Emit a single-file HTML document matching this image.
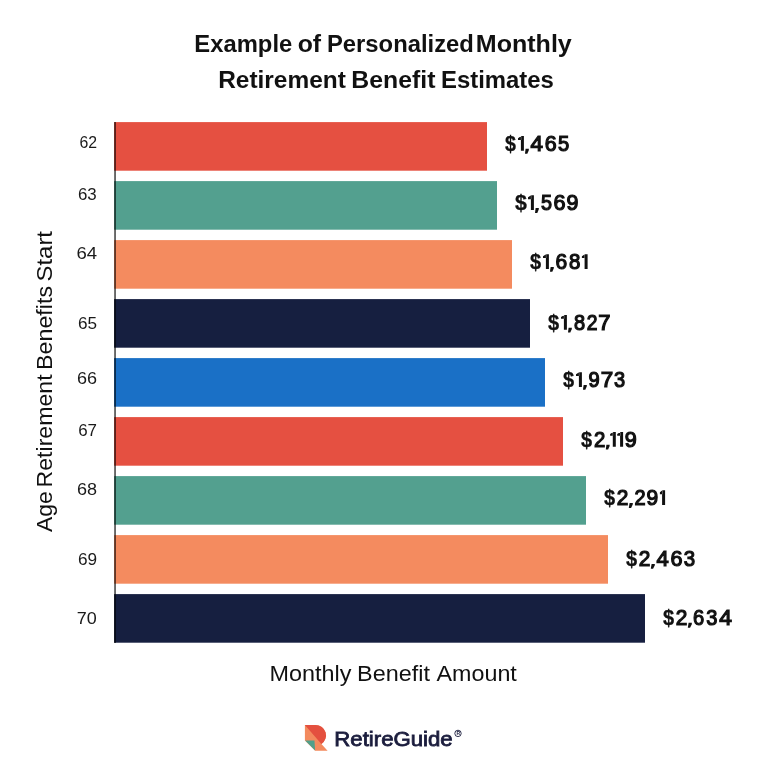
<!DOCTYPE html>
<html><head><meta charset="utf-8"><style>
html,body{margin:0;padding:0;background:#fff;}
body{width:768px;height:775px;overflow:hidden;}
svg{display:block;will-change:transform;}
text{font-family:"Liberation Sans",sans-serif;}
</style></head><body>
<svg width="768" height="775" viewBox="0 0 768 775">
<rect x="114.1" y="122.1" width="372.9" height="48.6" fill="#E55041"/>
<rect x="114.1" y="181.1" width="382.9" height="48.6" fill="#53A08F"/>
<rect x="114.1" y="240.1" width="397.9" height="48.6" fill="#F48B5F"/>
<rect x="114.1" y="299.1" width="415.9" height="48.6" fill="#161F40"/>
<rect x="114.1" y="358.1" width="430.9" height="48.6" fill="#1A70C6"/>
<rect x="114.1" y="417.1" width="448.9" height="48.6" fill="#E55041"/>
<rect x="114.1" y="476.1" width="471.9" height="48.6" fill="#53A08F"/>
<rect x="114.1" y="535.1" width="493.9" height="48.6" fill="#F48B5F"/>
<rect x="114.1" y="594.1" width="530.9" height="48.6" fill="#161F40"/>
<text style="font-size:24.4px;font-weight:bold;fill:#111" x="194.36" y="51.9" textLength="97.87" lengthAdjust="spacingAndGlyphs">Example</text>
<text style="font-size:24.4px;font-weight:bold;fill:#111" x="297.70" y="51.9" textLength="23.41" lengthAdjust="spacingAndGlyphs">of</text>
<text style="font-size:24.4px;font-weight:bold;fill:#111" x="326.98" y="51.9" textLength="146.86" lengthAdjust="spacingAndGlyphs">Personalized</text>
<text style="font-size:24.4px;font-weight:bold;fill:#111" x="475.77" y="51.9" textLength="96.05" lengthAdjust="spacingAndGlyphs">Monthly</text>
<text style="font-size:24.4px;font-weight:bold;fill:#111" x="218.19" y="87.8" textLength="127.63" lengthAdjust="spacingAndGlyphs">Retirement</text>
<text style="font-size:24.4px;font-weight:bold;fill:#111" x="351.35" y="87.8" textLength="84.06" lengthAdjust="spacingAndGlyphs">Benefit</text>
<text style="font-size:24.4px;font-weight:bold;fill:#111" x="440.94" y="87.8" textLength="112.92" lengthAdjust="spacingAndGlyphs">Estimates</text>
<text style="font-size:16.2px;font-weight:normal;fill:#1a1a1a" x="79.40" y="148.0" textLength="17.62" lengthAdjust="spacingAndGlyphs">62</text>
<text style="font-size:16.2px;font-weight:normal;fill:#1a1a1a" x="77.97" y="200.3" textLength="18.79" lengthAdjust="spacingAndGlyphs">63</text>
<text style="font-size:16.2px;font-weight:normal;fill:#1a1a1a" x="76.50" y="259.2" textLength="20.63" lengthAdjust="spacingAndGlyphs">64</text>
<text style="font-size:16.2px;font-weight:normal;fill:#1a1a1a" x="77.97" y="328.9" textLength="19.08" lengthAdjust="spacingAndGlyphs">65</text>
<text style="font-size:16.2px;font-weight:normal;fill:#1a1a1a" x="76.91" y="384.0" textLength="20.06" lengthAdjust="spacingAndGlyphs">66</text>
<text style="font-size:16.2px;font-weight:normal;fill:#1a1a1a" x="78.19" y="436.1" textLength="18.85" lengthAdjust="spacingAndGlyphs">67</text>
<text style="font-size:16.2px;font-weight:normal;fill:#1a1a1a" x="76.91" y="495.1" textLength="20.06" lengthAdjust="spacingAndGlyphs">68</text>
<text style="font-size:16.2px;font-weight:normal;fill:#1a1a1a" x="77.92" y="565.3" textLength="19.14" lengthAdjust="spacingAndGlyphs">69</text>
<text style="font-size:16.2px;font-weight:normal;fill:#1a1a1a" x="76.75" y="624.2" textLength="20.00" lengthAdjust="spacingAndGlyphs">70</text>
<text style="font-size:22.4px;font-weight:normal;fill:#111" x="269.53" y="680.6" textLength="81.88" lengthAdjust="spacingAndGlyphs">Monthly</text>
<text style="font-size:22.4px;font-weight:normal;fill:#111" x="357.14" y="680.6" textLength="72.86" lengthAdjust="spacingAndGlyphs">Benefit</text>
<text style="font-size:22.4px;font-weight:normal;fill:#111" x="436.58" y="680.6" textLength="80.23" lengthAdjust="spacingAndGlyphs">Amount</text>
<text style="font-size:22.4px;font-weight:normal;fill:#111" transform="translate(51.8,532.08) rotate(-90)" textLength="40.75" lengthAdjust="spacingAndGlyphs">Age</text>
<text style="font-size:22.4px;font-weight:normal;fill:#111" transform="translate(51.8,487.44) rotate(-90)" textLength="113.06" lengthAdjust="spacingAndGlyphs">Retirement</text>
<text style="font-size:22.4px;font-weight:normal;fill:#111" transform="translate(51.8,369.88) rotate(-90)" textLength="83.92" lengthAdjust="spacingAndGlyphs">Benefits</text>
<text style="font-size:22.4px;font-weight:normal;fill:#111" transform="translate(51.8,281.47) rotate(-90)" textLength="50.47" lengthAdjust="spacingAndGlyphs">Start</text>
<text style="font-size:20.0px;font-weight:normal;fill:#1B1D3D;stroke:#1B1D3D;stroke-width:0.8px" x="334.36" y="745.7" textLength="118.27" lengthAdjust="spacingAndGlyphs">RetireGuide</text>
<text x="505.09" y="150.8" textLength="10.94" lengthAdjust="spacingAndGlyphs" style="font-size:21.3px;font-weight:bold;fill:#111;stroke:#111;stroke-width:0.3px">$</text>
<path d="M520.90,136.05H523.90V150.80H520.90Z M521.20,136.05 L518.00,138.15 L518.00,139.95 L521.20,139.95Z" fill="#111"/>
<path d="M525.60,148.80 L528.90,148.80 L528.70,150.40 L527.30,153.70 L525.00,153.70 Z" fill="#111"/>
<text x="530.59" y="150.8" textLength="12.47" lengthAdjust="spacingAndGlyphs" style="font-size:21.3px;font-weight:normal;fill:#111;stroke:#111;stroke-width:1.2px">4</text>
<text x="544.81" y="150.8" textLength="11.93" lengthAdjust="spacingAndGlyphs" style="font-size:21.3px;font-weight:normal;fill:#111;stroke:#111;stroke-width:1.2px">6</text>
<text x="557.99" y="150.8" textLength="11.26" lengthAdjust="spacingAndGlyphs" style="font-size:21.3px;font-weight:normal;fill:#111;stroke:#111;stroke-width:1.2px">5</text>
<text x="515.07" y="210.0" textLength="11.88" lengthAdjust="spacingAndGlyphs" style="font-size:21.3px;font-weight:bold;fill:#111;stroke:#111;stroke-width:0.3px">$</text>
<path d="M530.90,195.25H533.90V210.00H530.90Z M531.20,195.25 L528.00,197.35 L528.00,199.15 L531.20,199.15Z" fill="#111"/>
<path d="M535.60,208.00 L538.90,208.00 L538.70,209.60 L537.30,212.90 L535.00,212.90 Z" fill="#111"/>
<text x="541.01" y="210.0" textLength="11.03" lengthAdjust="spacingAndGlyphs" style="font-size:21.3px;font-weight:normal;fill:#111;stroke:#111;stroke-width:1.2px">5</text>
<text x="553.40" y="210.0" textLength="12.05" lengthAdjust="spacingAndGlyphs" style="font-size:21.3px;font-weight:normal;fill:#111;stroke:#111;stroke-width:1.2px">6</text>
<text x="566.50" y="210.0" textLength="11.92" lengthAdjust="spacingAndGlyphs" style="font-size:21.3px;font-weight:normal;fill:#111;stroke:#111;stroke-width:1.2px">9</text>
<text x="530.09" y="268.9" textLength="11.15" lengthAdjust="spacingAndGlyphs" style="font-size:21.3px;font-weight:bold;fill:#111;stroke:#111;stroke-width:0.3px">$</text>
<path d="M545.90,254.15H548.90V268.90H545.90Z M546.20,254.15 L543.00,256.25 L543.00,258.05 L546.20,258.05Z" fill="#111"/>
<path d="M550.60,266.90 L553.90,266.90 L553.70,268.50 L552.30,271.80 L550.00,271.80 Z" fill="#111"/>
<text x="555.43" y="268.9" textLength="11.69" lengthAdjust="spacingAndGlyphs" style="font-size:21.3px;font-weight:normal;fill:#111;stroke:#111;stroke-width:1.2px">6</text>
<text x="569.01" y="268.9" textLength="11.38" lengthAdjust="spacingAndGlyphs" style="font-size:21.3px;font-weight:normal;fill:#111;stroke:#111;stroke-width:1.2px">8</text>
<path d="M584.60,254.15H587.60V268.90H584.60Z M584.90,254.15 L581.90,256.25 L581.90,258.05 L584.90,258.05Z" fill="#111"/>
<text x="548.09" y="329.7" textLength="11.15" lengthAdjust="spacingAndGlyphs" style="font-size:21.3px;font-weight:bold;fill:#111;stroke:#111;stroke-width:0.3px">$</text>
<path d="M563.90,314.95H566.90V329.70H563.90Z M564.20,314.95 L561.00,317.05 L561.00,318.85 L564.20,318.85Z" fill="#111"/>
<path d="M568.60,327.70 L571.90,327.70 L571.70,329.30 L570.30,332.60 L568.00,332.60 Z" fill="#111"/>
<text x="573.93" y="329.7" textLength="11.14" lengthAdjust="spacingAndGlyphs" style="font-size:21.3px;font-weight:normal;fill:#111;stroke:#111;stroke-width:1.2px">8</text>
<text x="586.73" y="329.7" textLength="10.74" lengthAdjust="spacingAndGlyphs" style="font-size:21.3px;font-weight:normal;fill:#111;stroke:#111;stroke-width:1.2px">2</text>
<text x="598.17" y="329.7" textLength="12.23" lengthAdjust="spacingAndGlyphs" style="font-size:21.3px;font-weight:normal;fill:#111;stroke:#111;stroke-width:1.2px">7</text>
<text x="563.09" y="386.9" textLength="11.15" lengthAdjust="spacingAndGlyphs" style="font-size:21.3px;font-weight:bold;fill:#111;stroke:#111;stroke-width:0.3px">$</text>
<path d="M578.90,372.15H581.90V386.90H578.90Z M579.20,372.15 L576.00,374.25 L576.00,376.05 L579.20,376.05Z" fill="#111"/>
<path d="M583.60,384.90 L586.90,384.90 L586.70,386.50 L585.30,389.80 L583.00,389.80 Z" fill="#111"/>
<text x="588.56" y="386.9" textLength="11.20" lengthAdjust="spacingAndGlyphs" style="font-size:21.3px;font-weight:normal;fill:#111;stroke:#111;stroke-width:1.2px">9</text>
<text x="600.65" y="386.9" textLength="12.48" lengthAdjust="spacingAndGlyphs" style="font-size:21.3px;font-weight:normal;fill:#111;stroke:#111;stroke-width:1.2px">7</text>
<text x="614.04" y="386.9" textLength="11.14" lengthAdjust="spacingAndGlyphs" style="font-size:21.3px;font-weight:normal;fill:#111;stroke:#111;stroke-width:1.2px">3</text>
<text x="581.09" y="446.7" textLength="11.15" lengthAdjust="spacingAndGlyphs" style="font-size:21.3px;font-weight:bold;fill:#111;stroke:#111;stroke-width:0.3px">$</text>
<text x="593.97" y="446.7" textLength="11.35" lengthAdjust="spacingAndGlyphs" style="font-size:21.3px;font-weight:normal;fill:#111;stroke:#111;stroke-width:1.2px">2</text>
<path d="M606.40,444.70 L609.70,444.70 L609.50,446.30 L608.10,449.60 L605.80,449.60 Z" fill="#111"/>
<path d="M612.80,431.95H615.80V446.70H612.80Z M613.10,431.95 L610.10,434.05 L610.10,435.85 L613.10,435.85Z" fill="#111"/>
<path d="M620.10,431.95H623.10V446.70H620.10Z M620.40,431.95 L617.20,434.05 L617.20,435.85 L620.40,435.85Z" fill="#111"/>
<text x="624.69" y="446.7" textLength="12.04" lengthAdjust="spacingAndGlyphs" style="font-size:21.3px;font-weight:normal;fill:#111;stroke:#111;stroke-width:1.2px">9</text>
<text x="604.09" y="505.0" textLength="11.15" lengthAdjust="spacingAndGlyphs" style="font-size:21.3px;font-weight:bold;fill:#111;stroke:#111;stroke-width:0.3px">$</text>
<text x="616.75" y="505.0" textLength="11.60" lengthAdjust="spacingAndGlyphs" style="font-size:21.3px;font-weight:normal;fill:#111;stroke:#111;stroke-width:1.2px">2</text>
<path d="M629.60,503.00 L632.90,503.00 L632.70,504.60 L631.10,507.90 L628.80,507.90 Z" fill="#111"/>
<text x="634.40" y="505.0" textLength="11.11" lengthAdjust="spacingAndGlyphs" style="font-size:21.3px;font-weight:normal;fill:#111;stroke:#111;stroke-width:1.2px">2</text>
<text x="646.52" y="505.0" textLength="11.68" lengthAdjust="spacingAndGlyphs" style="font-size:21.3px;font-weight:normal;fill:#111;stroke:#111;stroke-width:1.2px">9</text>
<path d="M662.10,490.25H665.10V505.00H662.10Z M662.40,490.25 L659.90,492.35 L659.90,494.15 L662.40,494.15Z" fill="#111"/>
<text x="626.09" y="565.9" textLength="11.15" lengthAdjust="spacingAndGlyphs" style="font-size:21.3px;font-weight:bold;fill:#111;stroke:#111;stroke-width:0.3px">$</text>
<text x="638.75" y="565.9" textLength="11.60" lengthAdjust="spacingAndGlyphs" style="font-size:21.3px;font-weight:normal;fill:#111;stroke:#111;stroke-width:1.2px">2</text>
<path d="M651.60,563.90 L654.90,563.90 L654.70,565.50 L653.10,568.80 L650.80,568.80 Z" fill="#111"/>
<text x="656.59" y="565.9" textLength="12.25" lengthAdjust="spacingAndGlyphs" style="font-size:21.3px;font-weight:normal;fill:#111;stroke:#111;stroke-width:1.2px">4</text>
<text x="670.40" y="565.9" textLength="12.05" lengthAdjust="spacingAndGlyphs" style="font-size:21.3px;font-weight:normal;fill:#111;stroke:#111;stroke-width:1.2px">6</text>
<text x="683.72" y="565.9" textLength="11.38" lengthAdjust="spacingAndGlyphs" style="font-size:21.3px;font-weight:normal;fill:#111;stroke:#111;stroke-width:1.2px">3</text>
<text x="663.09" y="624.8" textLength="11.15" lengthAdjust="spacingAndGlyphs" style="font-size:21.3px;font-weight:bold;fill:#111;stroke:#111;stroke-width:0.3px">$</text>
<text x="675.75" y="624.8" textLength="11.60" lengthAdjust="spacingAndGlyphs" style="font-size:21.3px;font-weight:normal;fill:#111;stroke:#111;stroke-width:1.2px">2</text>
<path d="M688.60,622.80 L691.90,622.80 L691.70,624.40 L690.10,627.70 L687.80,627.70 Z" fill="#111"/>
<text x="693.08" y="624.8" textLength="11.21" lengthAdjust="spacingAndGlyphs" style="font-size:21.3px;font-weight:normal;fill:#111;stroke:#111;stroke-width:1.2px">6</text>
<text x="706.34" y="624.8" textLength="11.14" lengthAdjust="spacingAndGlyphs" style="font-size:21.3px;font-weight:normal;fill:#111;stroke:#111;stroke-width:1.2px">3</text>
<text x="719.18" y="624.8" textLength="12.69" lengthAdjust="spacingAndGlyphs" style="font-size:21.3px;font-weight:normal;fill:#111;stroke:#111;stroke-width:1.2px">4</text>
<rect x="114.1" y="122" width="1.9" height="521" fill="#000" fill-opacity="0.6"/>
<path d="M304.9,724.9 H315.56 A10.44,10.44 0 0 1 321.4,744 L327.6,750.7 H315.1 L304.9,740.6 Z" fill="#F38A5E"/>
<path d="M304.9,724.9 H315.56 A10.44,10.44 0 0 1 321.4,744 Z" fill="#E4503F"/>
<path d="M305.1,740.6 H314.5 L315.1,750.6 Z" fill="#4FA08B"/>
<circle cx="458" cy="733.4" r="3.2" fill="none" stroke="#1B1D3D" stroke-width="0.9"/>
<text x="456.6" y="735.3" style="font-size:5px;font-weight:bold;fill:#1B1D3D">R</text>
</svg>
</body></html>
